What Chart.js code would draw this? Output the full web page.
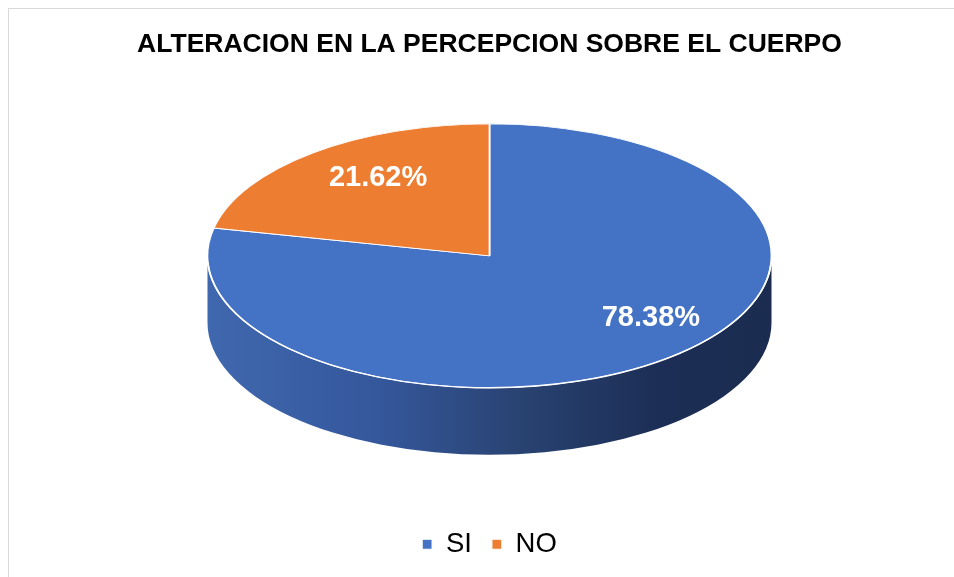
<!DOCTYPE html>
<html>
<head>
<meta charset="utf-8">
<script src="https://cdn.jsdelivr.net/npm/chart.js"></script>
<style>
  html, body { margin: 0; padding: 0; background: #fff; overflow: hidden; }
  #wrap {
    position: absolute; left: 8px; top: 8px;
    width: 961px; height: 580px;
    border-left: 1px solid #d9d9d9; border-top: 1px solid #d9d9d9;
  }
</style>
</head>
<body>
<div id="wrap"><canvas id="chart" width="961" height="580"></canvas></div>
<script>
const categories = ['SI', 'NO'];
const percentages = [78.38, 21.62];
const sliceColors = ['#4472C4', '#ED7D31'];

// look of the tilted pie
const PIE_RX = 282;
const PIE_RY = 132;
const PIE_DEPTH = 67;
const LABEL_POS_X = 0.77;
const LABEL_POS_Y = 0.68;
const LABEL_SHIFT_X = 25;
const LABEL_SHIFT_Y = -8;

const tiltedPie = {
  id: 'tiltedPie',
  beforeDatasetsDraw(chart) {
    const arc = chart.getDatasetMeta(0).data[0];
    const ctx = chart.ctx;
    const cx = arc.x;
    const cy = chart.chartArea.top + PIE_RY;

    // side wall of the disc
    const grad = ctx.createLinearGradient(cx - PIE_RX, 0, cx + PIE_RX, 0);
    grad.addColorStop(0, '#4068ae');
    grad.addColorStop(0.3, '#35579c');
    grad.addColorStop(0.55, '#294372');
    grad.addColorStop(0.8, '#1c2e55');
    grad.addColorStop(1, '#1b2c50');
    ctx.save();
    ctx.beginPath();
    ctx.ellipse(cx, cy, PIE_RX, PIE_RY, 0, 0, Math.PI);
    ctx.lineTo(cx - PIE_RX, cy + PIE_DEPTH);
    ctx.ellipse(cx, cy + PIE_DEPTH, PIE_RX, PIE_RY, 0, Math.PI, 0, true);
    ctx.closePath();
    ctx.fillStyle = grad;
    ctx.fill();
    ctx.restore();

    ctx.save();
    ctx.translate(cx, cy);
    ctx.scale(PIE_RX / arc.outerRadius, PIE_RY / arc.outerRadius);
    ctx.translate(-arc.x, -arc.y);
  },
  afterDatasetsDraw(chart) {
    const ctx = chart.ctx;
    ctx.restore();
    const meta = chart.getDatasetMeta(0);
    const arc = meta.data[0];
    const cx = arc.x;
    const cy = chart.chartArea.top + PIE_RY;

    ctx.save();
    ctx.beginPath();
    ctx.ellipse(cx, cy, PIE_RX, PIE_RY, 0, 0.05, Math.PI - 0.05);
    ctx.strokeStyle = '#ffffff';
    ctx.lineWidth = 1.5;
    ctx.stroke();

    ctx.fillStyle = '#ffffff';
    ctx.font = 'bold 29px "Liberation Sans", Arial, sans-serif';
    ctx.textAlign = 'center';
    ctx.textBaseline = 'middle';
    meta.data.forEach((el, i) => {
      const mid = (el.startAngle + el.endAngle) / 2;
      const x = cx + LABEL_SHIFT_X + Math.cos(mid) * PIE_RX * LABEL_POS_X;
      const y = cy + LABEL_SHIFT_Y + Math.sin(mid) * PIE_RY * LABEL_POS_Y;
      ctx.fillText(percentages[i].toFixed(2) + '%', x, y);
    });
    ctx.restore();
  }
};

new Chart(document.getElementById('chart'), {
  type: 'pie',
  data: {
    labels: categories,
    datasets: [{
      data: percentages,
      backgroundColor: sliceColors,
      borderColor: '#ffffff',
      borderWidth: 1.2
    }]
  },
  options: {
    responsive: false,
    animation: false,
    layout: { padding: { bottom: 21 } },
    plugins: {
      title: {
        display: true,
        text: 'ALTERACION EN LA PERCEPCION SOBRE EL CUERPO',
        color: '#000000',
        font: { family: '"Liberation Sans", Arial, sans-serif', size: 26.5, weight: 'bold' },
        padding: { top: 20, bottom: 63 }
      },
      legend: {
        position: 'bottom',
        labels: {
          color: '#000000',
          font: { family: '"Liberation Sans", Arial, sans-serif', size: 27.5 },
          boxWidth: 10,
          boxHeight: 10,
          padding: 20
        }
      },
      tooltip: { enabled: false }
    }
  },
  plugins: [tiltedPie]
});
</script>
</body>
</html>
